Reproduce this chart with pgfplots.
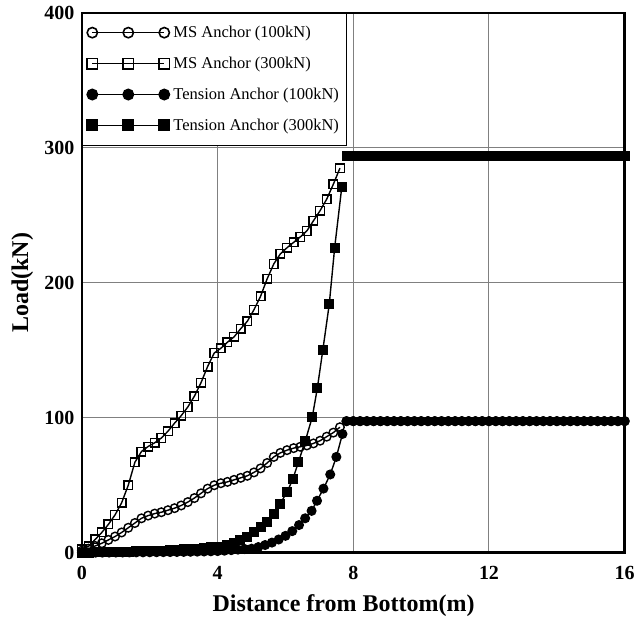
\documentclass[border=0pt]{standalone}
\usepackage{fontspec}
\setmainfont{Liberation Serif}
\usepackage{pgfplots}
\usepackage{pgfplotstable}
\pgfplotsset{compat=1.18}

% plateau beyond the anchor end (x from 7.8 m to 16 m)
\pgfplotstableread{
x lo hi
7.8 97.5 294
8.0 97.5 294
8.2 97.5 294
8.4 97.5 294
8.6 97.5 294
8.8 97.5 294
9.0 97.5 294
9.2 97.5 294
9.4 97.5 294
9.6 97.5 294
9.8 97.5 294
10.0 97.5 294
10.2 97.5 294
10.4 97.5 294
10.6 97.5 294
10.8 97.5 294
11.0 97.5 294
11.2 97.5 294
11.4 97.5 294
11.6 97.5 294
11.8 97.5 294
12.0 97.5 294
12.2 97.5 294
12.4 97.5 294
12.6 97.5 294
12.8 97.5 294
13.0 97.5 294
13.2 97.5 294
13.4 97.5 294
13.6 97.5 294
13.8 97.5 294
14.0 97.5 294
14.2 97.5 294
14.4 97.5 294
14.6 97.5 294
14.8 97.5 294
15.0 97.5 294
15.2 97.5 294
15.4 97.5 294
15.6 97.5 294
15.8 97.5 294
16.0 97.5 294
}\plateau

\begin{document}
\begin{tikzpicture}
\begin{axis}[
    scale only axis,
    width=543pt, height=540pt,
    xmin=0, xmax=16, ymin=0, ymax=400,
    xtick={0,4,8,12,16}, ytick={0,100,200,300,400},
    major tick length=0pt,
    grid=major,
    major grid style={gray, line width=1pt},
    axis line style={line width=2.5pt},
    clip=false,
    /pgf/number format/assume math mode=true,
    tick label style={font=\bfseries\fontsize{20}{20}\selectfont},
    xticklabel style={yshift=-10pt},
    yticklabel style={xshift=-4pt},
    xlabel={Distance from Bottom(m)},
    ylabel={Load(kN)},
    label style={font=\bfseries\fontsize{24}{24}\selectfont},
    xlabel style={at={(axis description cs:0.482,-0.109)}, anchor=base},
    ylabel style={at={(axis description cs:-0.11,0.5)}, anchor=center},
    legend style={at={(0,1)}, anchor=north west, draw=black,
        fill=white, inner xsep=5pt, inner ysep=11pt, row sep=14pt, column sep=2pt,
        font=\fontsize{16.5}{18}\selectfont},
    legend cell align=left,
    legend image code/.code={
        \draw[line width=1.6pt, mark repeat=1, mark phase=1, mark options={scale=1.2}]
            plot coordinates {(0pt,0pt) (36pt,0pt) (72pt,0pt)};
    },
    every axis plot/.append style={black, line width=1.4pt, mark size=4.3pt},
]
\addplot[mark=o] coordinates {
    (0,1.5) (0.195,3) (0.39,5) (0.585,7) (0.78,9.5) (0.975,12) (1.17,15) (1.365,18.5)
    (1.56,22) (1.755,25.5) (1.95,27.5) (2.145,29) (2.34,30) (2.535,31.5) (2.73,33)
    (2.925,35) (3.12,37.5) (3.315,40.5) (3.51,44) (3.705,47.5) (3.9,50) (4.095,51.5)
    (4.29,52.5) (4.485,54) (4.68,55.5) (4.875,57) (5.07,59.5) (5.265,62.5) (5.46,66.5)
    (5.655,71) (5.85,74) (6.045,76) (6.24,77.5) (6.435,78.5) (6.63,79.5) (6.825,81)
    (7.02,83) (7.215,86) (7.41,89) (7.605,93)
};
\addlegendentry{MS Anchor (100kN)}
\addplot[mark=o, forget plot] table[x=x, y=lo] {\plateau};

\addplot[mark=square] coordinates {
    (0,2.5) (0.195,4.7) (0.39,9.8) (0.585,15) (0.78,21) (0.975,28) (1.17,37) (1.365,50)
    (1.56,67) (1.755,75) (1.95,78.7) (2.145,81.5) (2.34,85) (2.535,90) (2.73,96)
    (2.925,101.5) (3.12,108) (3.315,116) (3.51,126) (3.705,138) (3.9,148) (4.095,151.5)
    (4.29,156) (4.485,160) (4.68,166) (4.875,171.5) (5.07,180) (5.265,190) (5.46,203)
    (5.655,214) (5.85,221.5) (6.045,226) (6.24,230) (6.435,234) (6.63,238.5) (6.825,246)
    (7.02,253.5) (7.215,262) (7.41,273) (7.605,285)
};
\addlegendentry{MS Anchor (300kN)}
\addplot[mark=square, forget plot] table[x=x, y=hi] {\plateau};

\addplot[mark=*] coordinates {
    (0,0) (0.2,0.02) (0.4,0.05) (0.6,0.08) (0.8,0.1) (1.0,0.13) (1.2,0.16) (1.4,0.2)
    (1.6,0.24) (1.8,0.28) (2.0,0.32) (2.2,0.37) (2.4,0.42) (2.6,0.48) (2.8,0.54) (3.0,0.6)
    (3.2,0.7) (3.4,0.8) (3.6,0.9) (3.8,1.05) (4.0,1.2) (4.2,1.5) (4.4,1.9) (4.6,2.3)
    (4.8,2.7) (5.0,3) (5.2,4.2) (5.4,5.7) (5.6,7.5) (5.8,9.8) (6.0,12.5) (6.2,16)
    (6.4,20.5) (6.58,25.5) (6.77,31) (6.93,38.5) (7.12,47.5) (7.32,58) (7.5,71) (7.68,88)
};
\addlegendentry{Tension Anchor (100kN)}
\addplot[mark=*, forget plot] table[x=x, y=lo] {\plateau};

\addplot[mark=square*] coordinates {
    (0,0) (0.2,0.1) (0.4,0.2) (0.6,0.3) (0.8,0.4) (1.0,0.5) (1.2,0.6) (1.4,0.7)
    (1.6,0.9) (1.8,1.0) (2.0,1.2) (2.2,1.4) (2.4,1.6) (2.6,1.8) (2.8,2.1) (3.0,2.4)
    (3.2,2.7) (3.4,3.1) (3.6,3.5) (3.8,4.0) (4.0,4.5) (4.28,5.6) (4.47,7.2) (4.67,9.1)
    (4.87,11.6) (5.07,15.3) (5.27,19) (5.46,22.7) (5.66,28.9) (5.84,36.3) (6.05,45)
    (6.22,54.8) (6.38,67) (6.58,82.5) (6.79,100.5) (6.94,122) (7.1,150) (7.29,184)
    (7.45,226) (7.66,271)
};
\addlegendentry{Tension Anchor (300kN)}
\addplot[mark=square*, forget plot] table[x=x, y=hi] {\plateau};
\end{axis}
\path (current axis.south west) ++(-82pt,-68pt) rectangle ([shift={(13pt,13pt)}]current axis.north east);
\end{tikzpicture}
\end{document}
